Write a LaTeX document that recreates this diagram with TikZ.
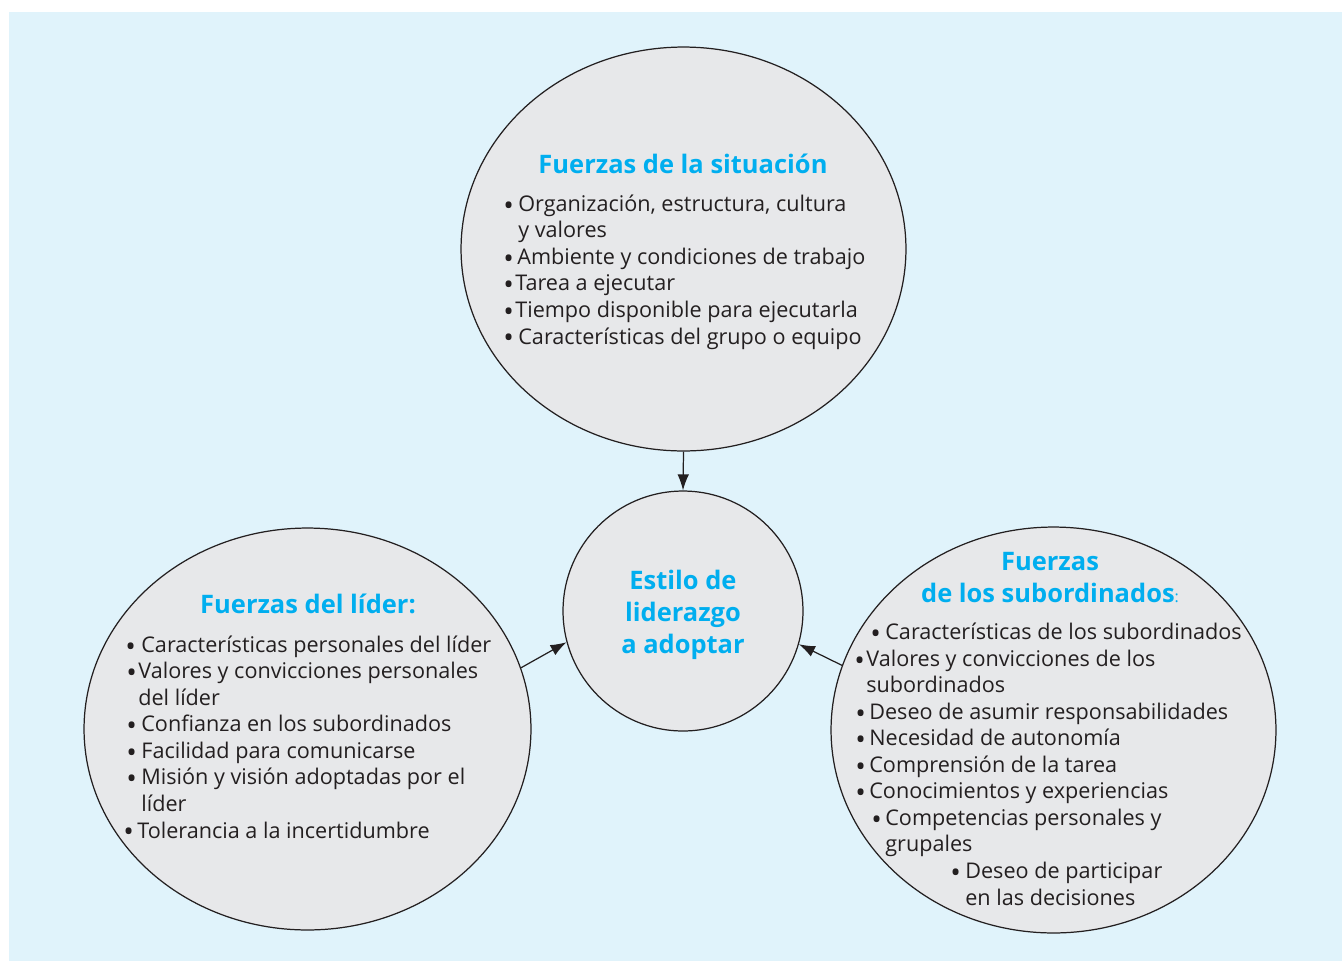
\documentclass[tikz,border=0pt]{standalone}
\usepackage{fontspec}
\setmainfont{Open Sans}
\usetikzlibrary{arrows.meta,shapes.geometric}
\definecolor{pageFill}{RGB}{224,243,251}
\definecolor{bubbleFill}{RGB}{231,232,234}
\definecolor{titleBlue}{RGB}{0,174,239}
\definecolor{bodyInk}{RGB}{35,31,32}
\newlength{\px}\setlength{\px}{0.02cm}
\newcommand{\bigbullet}{\smash{\raisebox{-2.2pt}{\fontsize{16}{15}\selectfont\textbullet}}}
\newcommand{\bitem}[3]{\hspace*{#1\px}\makebox[#2\px][l]{\bigbullet}#3}
\newcommand{\cont}[2]{\hspace*{#1\px}#2}
\tikzset{
  arrow/.style={-{Latex[length=3.2mm,width=2.3mm]}, draw=bodyInk, line width=0.7pt},
  bubble/.style={ellipse, draw=bodyInk, fill=bubbleFill, line width=0.7pt, inner sep=0pt},
  headline/.style={font=\bfseries\fontsize{14.5}{18.1}\selectfont, text=titleBlue, align=center, anchor=base, inner sep=0pt},
  itemlist/.style={font=\fontsize{12.3}{15.1}\selectfont, text=bodyInk, align=left, anchor=base west, inner sep=0pt}
}

\begin{document}
\begin{tikzpicture}[x=0.02cm,y=-0.02cm]
  \useasboundingbox (0,0) rectangle (1342,961);
  \fill[pageFill] (9,12) rectangle (1342,961);

  \node[bubble, minimum width=8.9cm, minimum height=8.08cm] (situacion) at (683.5,249) {};
  \node[bubble, circle, minimum size=4.8cm] (estilo) at (683,611) {};
  \node[bubble, minimum width=8.94cm, minimum height=8.04cm] (lider) at (307.5,729) {};
  \node[bubble, minimum width=8.9cm, minimum height=8.12cm] (subordinados) at (1053.5,730) {};

  % anchor base = baseline of the last line
  \node[headline] (situacionTitle) at (683,173) {Fuerzas de la situación};
  \node[itemlist] (situacionList) at (503,344) {%
    \bitem{0}{15}{Organización, estructura, cultura}\\
    \cont{15}{y valores}\\
    \bitem{0}{14}{Ambiente y condiciones de trabajo}\\
    \bitem{0}{12}{Tarea a ejecutar}\\
    \bitem{0}{12}{Tiempo disponible para ejecutarla}\\
    \bitem{0}{15}{Características del grupo o equipo}};

  \node[headline] (estiloTitle) at (683,653) {Estilo de\\liderazgo\\a adoptar};

  \node[headline] (liderTitle) at (308,613) {Fuerzas del líder:};
  \node[itemlist] (liderList) at (123,838) {%
    \bitem{2}{16}{Características personales del líder}\\
    \bitem{3}{12}{Valores y convicciones personales}\\
    \cont{15}{del líder}\\
    \bitem{3}{15}{Confianza en los subordinados}\\
    \bitem{3}{15}{Facilidad para comunicarse}\\
    \bitem{3}{15}{Misión y visión adoptadas por el}\\
    \cont{18}{líder}\\
    \bitem{0}{14}{Tolerancia a la incertidumbre}};

  \node[headline] (subordinadosTitle) at (1050,602) {Fuerzas\\de los subordinados{\mdseries\small:}};
  \node[itemlist] (subordinadosList) at (854,905) {%
    \bitem{16}{15}{Características de los subordinados}\\
    \bitem{0}{12}{Valores y convicciones de los}\\
    \cont{12}{subordinados}\\
    \bitem{1}{14}{Deseo de asumir responsabilidades}\\
    \bitem{1}{14}{Necesidad de autonomía}\\
    \bitem{1}{14}{Comprensión de la tarea}\\
    \bitem{1}{14}{Conocimientos y experiencias}\\
    \bitem{17}{14}{Competencias personales y}\\
    \cont{31}{grupales}\\
    \bitem{96}{15}{Deseo de participar}\\
    \cont{111}{en las decisiones}};

  \draw[arrow] (situacion.south) -- (estilo.north);
  \draw[arrow] (lider.16.5) -- (estilo.195);
  \draw[arrow] (subordinados.163.4) -- (estilo.-16);
\end{tikzpicture}
\end{document}
